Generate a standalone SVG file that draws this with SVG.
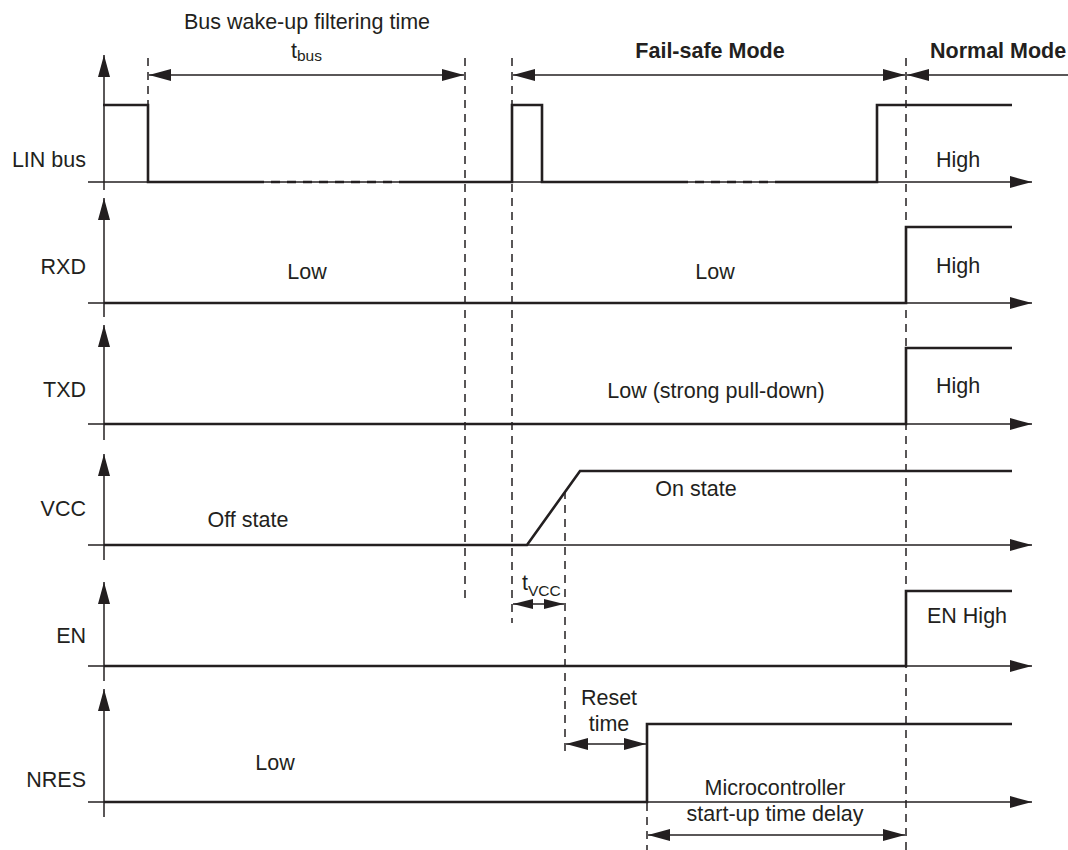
<svg xmlns="http://www.w3.org/2000/svg" width="1068" height="850" viewBox="0 0 1068 850">
<style>
text{font-family:"Liberation Sans",Arial,Helvetica,sans-serif;font-size:21.5px;fill:#231f20}
.b{font-weight:bold}
.m{text-anchor:middle}
.e{text-anchor:end}
.ax{stroke:#231f20;stroke-width:1.5;fill:none}
.sig{stroke:#231f20;stroke-width:2.6;fill:none;stroke-linejoin:miter}
.sigd{stroke:#231f20;stroke-width:2.6;fill:none;stroke-dasharray:9,7}
.dash{stroke:#231f20;stroke-width:1.5;fill:none;stroke-dasharray:8,6}
.dim{stroke:#231f20;stroke-width:1.5;fill:none}
</style>
<defs>
<marker id="arr" markerWidth="22" markerHeight="12" refX="22" refY="6" orient="auto-start-reverse" markerUnits="userSpaceOnUse"><path d="M0,0 L22,6 L0,12 z" fill="#231f20"/></marker>
<marker id="arrs" markerWidth="20" markerHeight="10" refX="20" refY="5" orient="auto-start-reverse" markerUnits="userSpaceOnUse"><path d="M0,0 L20,5 L0,10 z" fill="#231f20"/></marker>
</defs>
<rect width="1068" height="850" fill="#fff"/>

<g id="guides">
<line class="dash" x1="148" y1="58" x2="148" y2="104"/>
<line class="dash" x1="465" y1="58" x2="465" y2="598"/>
<line class="dash" x1="512" y1="58" x2="512" y2="623"/>
<line class="dash" x1="565" y1="491" x2="565" y2="757"/>
<line class="dash" x1="647" y1="803" x2="647" y2="850"/>
<line class="dash" x1="906" y1="58" x2="906" y2="850"/>
</g>

<g id="header">
<text class="m" x="307" y="29">Bus wake-up filtering time</text>
<text x="291" y="58">t<tspan font-size="15.5" dy="3">bus</tspan></text>
<text class="b m" x="710" y="58">Fail-safe Mode</text>
<text class="b" x="930" y="58">Normal Mode</text>
</g>

<g id="connectors">
<line class="dim" x1="149" y1="75" x2="464" y2="75" marker-start="url(#arr)" marker-end="url(#arr)"/>
<line class="dim" x1="513" y1="75" x2="905" y2="75" marker-start="url(#arr)" marker-end="url(#arr)"/>
<line class="dim" x1="1068" y1="75" x2="907" y2="75" marker-end="url(#arr)"/>
<line class="dim" x1="513" y1="604" x2="564" y2="604" marker-start="url(#arrs)" marker-end="url(#arrs)"/>
<line class="dim" x1="566" y1="744" x2="646" y2="744" marker-start="url(#arr)" marker-end="url(#arr)"/>
<line class="dim" x1="648" y1="835" x2="905" y2="835" marker-start="url(#arr)" marker-end="url(#arr)"/>
</g>

<g id="lin">
<line class="ax" x1="104" y1="190" x2="104" y2="55" marker-end="url(#arr)"/>
<line class="ax" x1="88" y1="182" x2="1032" y2="182" marker-end="url(#arr)"/>
<polyline class="sig" points="103,105 148,105 148,182 255,182"/>
<line class="sigd" x1="255" y1="182" x2="405" y2="182"/>
<polyline class="sig" points="405,182 512,182 512,105 542,105 542,182 679,182"/>
<line class="sigd" x1="679" y1="182" x2="783" y2="182"/>
<polyline class="sig" points="783,182 877,182 877,105 1012,105"/>
<text class="e" x="86" y="167">LIN bus</text>
<text x="936" y="167">High</text>
</g>

<g id="rxd">
<line class="ax" x1="104" y1="317" x2="104" y2="198" marker-end="url(#arr)"/>
<line class="ax" x1="88" y1="303" x2="1032" y2="303" marker-end="url(#arr)"/>
<polyline class="sig" points="104,303 906,303 906,227 1012,227"/>
<text class="e" x="86" y="274">RXD</text>
<text class="m" x="307" y="279">Low</text>
<text class="m" x="715" y="279">Low</text>
<text x="936" y="273">High</text>
</g>

<g id="txd">
<line class="ax" x1="104" y1="440" x2="104" y2="325" marker-end="url(#arr)"/>
<line class="ax" x1="88" y1="424" x2="1032" y2="424" marker-end="url(#arr)"/>
<polyline class="sig" points="104,424 906,424 906,348 1012,348"/>
<text class="e" x="86" y="397">TXD</text>
<text class="m" x="716" y="398">Low (strong pull-down)</text>
<text x="936" y="393">High</text>
</g>

<g id="vcc">
<line class="ax" x1="104" y1="560" x2="104" y2="454" marker-end="url(#arr)"/>
<line class="ax" x1="88" y1="545" x2="1032" y2="545" marker-end="url(#arr)"/>
<polyline class="sig" points="104,545 527,545 580,471 1012,471"/>
<text class="e" x="86" y="516">VCC</text>
<text class="m" x="248" y="527">Off state</text>
<text class="m" x="696" y="496">On state</text>
<text x="522" y="590">t<tspan font-size="15.5" dy="6">VCC</tspan></text>
</g>

<g id="en">
<line class="ax" x1="104" y1="681" x2="104" y2="582" marker-end="url(#arr)"/>
<line class="ax" x1="88" y1="666" x2="1032" y2="666" marker-end="url(#arr)"/>
<polyline class="sig" points="104,666 906,666 906,591 1012,591"/>
<text class="e" x="86" y="643">EN</text>
<text x="927" y="623">EN High</text>
</g>

<g id="nres">
<line class="ax" x1="104" y1="817" x2="104" y2="689" marker-end="url(#arr)"/>
<line class="ax" x1="88" y1="802" x2="1032" y2="802" marker-end="url(#arr)"/>
<polyline class="sig" points="104,802 647,802 647,724 1012,724"/>
<text class="e" x="86" y="787">NRES</text>
<text class="m" x="275" y="770">Low</text>
<text class="m" x="609" y="705">Reset</text>
<text class="m" x="609" y="731">time</text>
<text class="m" x="775" y="795">Microcontroller</text>
<text class="m" x="775" y="821">start-up time delay</text>
</g>
</svg>
